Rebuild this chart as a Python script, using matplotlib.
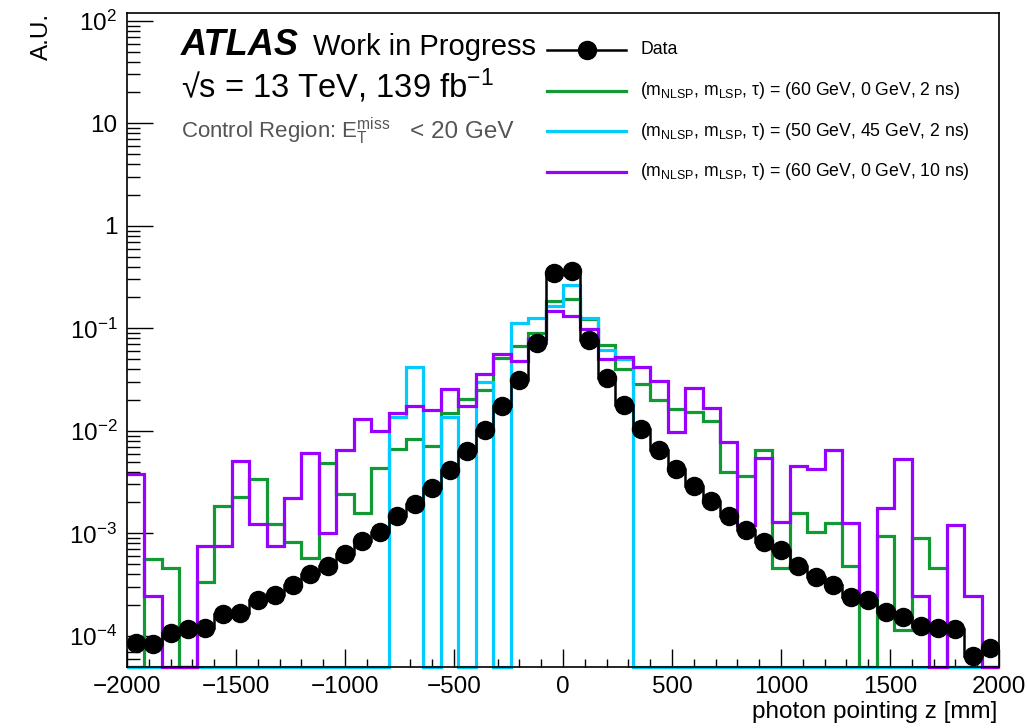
import numpy as np
import matplotlib
matplotlib.use("Agg")
from matplotlib import pyplot as plt
from matplotlib.ticker import MultipleLocator, LogLocator, NullFormatter

plt.rcParams['font.family'] = ['Liberation Sans', 'DejaVu Sans']
plt.rcParams['mathtext.fontset'] = 'custom'
plt.rcParams['mathtext.rm'] = 'Liberation Sans'
plt.rcParams['mathtext.it'] = 'Liberation Sans:italic'
plt.rcParams['mathtext.bf'] = 'Liberation Sans:bold'

# 50 bins of 80 mm between -2000 and 2000
edges = np.linspace(-2000, 2000, 51)
centers = 0.5 * (edges[:-1] + edges[1:])

data = [8.45e-5, 8.3e-5, 1.07e-4, 1.17e-4, 1.2e-4, 1.62e-4, 1.67e-4, 2.24e-4, 2.48e-4, 3.11e-4,
        3.98e-4, 4.8e-4, 6.34e-4, 8.4e-4, 1.04e-3, 1.48e-3, 1.92e-3, 2.79e-3, 4.12e-3, 6.35e-3,
        1.03e-2, 1.75e-2, 3.13e-2, 7.15e-2, 0.344, 0.362, 7.69e-2, 3.3e-2, 1.79e-2, 1.05e-2,
        6.45e-3, 4.21e-3, 2.9e-3, 2.07e-3, 1.48e-3, 1.09e-3, 8.2e-4, 6.87e-4, 4.8e-4, 3.75e-4,
        3.11e-4, 2.41e-4, 2.24e-4, 1.71e-4, 1.53e-4, 1.25e-4, 1.2e-4, 1.17e-4, 6.36e-5, 7.67e-5]

sig_60_0_2ns = [0, 5.57e-4, 4.62e-4, 0, 3.38e-4, 1.85e-3, 2.28e-3, 3.36e-3, 1.24e-3, 8.2e-4,
                5.8e-4, 4.9e-3, 2.4e-3, 1.59e-3, 4.33e-3, 6.6e-3, 8.4e-3, 7.1e-3, 1.48e-2, 2.06e-2,
                2.48e-2, 5.17e-2, 6.73e-2, 8.93e-2, 0.185, 0.192, 0.124, 6.82e-2, 3.98e-2, 2.85e-2,
                2.0e-2, 1.64e-2, 1.53e-2, 1.25e-2, 3.96e-3, 3.62e-3, 6.5e-3, 4.62e-4, 1.59e-3, 1.02e-3,
                1.27e-3, 4.8e-4, 0, 9.4e-4, 1.14e-4, 9.07e-4, 4.62e-4, 0, 0, 0]

sig_50_45_2ns = [0, 0, 0, 0, 0, 0, 0, 0, 0, 0,
                 0, 0, 0, 0, 0, 1.36e-2, 4.2e-2, 0, 1.36e-2, 0,
                 2.99e-2, 0, 0.1135, 0.127, 0.165, 0.264, 0.125, 6.15e-2, 5.06e-2, 0,
                 0, 0, 0, 0, 0, 0, 0, 0, 0, 0,
                 0, 0, 0, 0, 0, 0, 0, 0, 0, 0]

sig_60_0_10ns = [3.76e-3, 2.44e-4, 0, 0, 7.6e-4, 7.6e-4, 5.08e-3, 1.22e-3, 7.6e-4, 2.23e-3,
                 6.12e-3, 1.0e-3, 6.5e-3, 1.29e-2, 1.0e-2, 1.48e-2, 1.75e-2, 1.6e-2, 2.54e-2, 1.75e-2,
                 3.56e-2, 5.57e-2, 4.8e-2, 7.94e-2, 0.1476, 0.132, 9.93e-2, 5.06e-2, 5.3e-2, 4.2e-2,
                 3.06e-2, 9.75e-3, 2.6e-2, 1.68e-2, 7.84e-3, 1.2e-3, 5.47e-3, 1.29e-3, 4.54e-3, 4.27e-3,
                 6.5e-3, 1.27e-3, 2.44e-4, 1.75e-3, 5.27e-3, 2.44e-4, 0, 1.2e-3, 2.44e-4, 0]

labels = ["Data",
          r"(m$_\mathregular{NLSP}$, m$_\mathregular{LSP}$, τ) = (60 GeV, 0 GeV, 2 ns)",
          r"(m$_\mathregular{NLSP}$, m$_\mathregular{LSP}$, τ) = (50 GeV, 45 GeV, 2 ns)",
          r"(m$_\mathregular{NLSP}$, m$_\mathregular{LSP}$, τ) = (60 GeV, 0 GeV, 10 ns)"]
colors = ['#119933', '#00ccff', '#9a00ff']

ytick_vals = [1e-4, 1e-3, 1e-2, 1e-1, 1, 10, 100]
ytick_labels = [r'10$^{-4}$', r'10$^{-3}$', r'10$^{-2}$', r'10$^{-1}$', '1', '10', r'10$^{2}$']

ymin, ymax = 5e-5, 120

W, H = 1028, 728
fig = plt.figure(figsize=(W / 100, H / 100), dpi=100)
ax = fig.add_axes([127 / W, 1 - 666.7 / H, 872 / W, 654 / H])
ax.set_yscale('log')

# empty bins are drawn on the bottom of the frame, like ROOT does
for vals, c in zip([sig_60_0_2ns, sig_50_45_2ns, sig_60_0_10ns], colors):
    v = np.asarray(vals, dtype=float)
    v = np.where(v > 0, v, ymin)
    ax.stairs(v, edges, baseline=None, color=c, lw=2.3, clip_on=False, zorder=2)

ax.stairs(data, edges, baseline=None, color='black', lw=1.8, zorder=3)
ax.plot(centers, data, 'o', color='black', ms=13, zorder=4)

ax.set_xlim(-2000, 2000)
ax.set_ylim(ymin, ymax)
ax.xaxis.set_major_locator(MultipleLocator(500))
ax.xaxis.set_minor_locator(MultipleLocator(100))
ax.set_yticks(ytick_vals, ytick_labels)
ax.yaxis.set_minor_locator(LogLocator(base=10, subs=np.arange(2, 10)))
ax.yaxis.set_minor_formatter(NullFormatter())
ax.xaxis.set_major_formatter(matplotlib.ticker.FuncFormatter(
    lambda v, p: ('\u2212%d' % -v) if v < 0 else '%d' % v))
ax.tick_params(axis='x', which='major', direction='in', length=13, width=1, labelsize=17.5, pad=7)
ax.tick_params(axis='x', which='minor', direction='in', length=6, width=1)
ax.tick_params(axis='y', which='major', direction='in', length=19, width=1, labelsize=17.5, pad=7)
ax.tick_params(axis='y', which='minor', direction='in', length=9.5, width=1)
for s in ax.spines.values():
    s.set_linewidth(1.2)

fig.text(997 / W, 1 - 718 / H, 'photon pointing z [mm]', ha='right', va='baseline', fontsize=17.5)
fig.text(41.5 / W, 1 - 13 / H, 'A.U.', ha='center', va='top', rotation=90, fontsize=17.5)

# labels
fig.text(181 / W, 1 - 55 / H, 'ATLAS', fontsize=26, fontweight='bold', fontstyle='italic',
         va='baseline')
fig.text(313 / W, 1 - 55 / H, 'Work in Progress', fontsize=21, va='baseline')
fig.text(181 / W, 1 - 98 / H, r'√s = 13 TeV, 139 fb$^{\mathregular{-1}}$', fontsize=23.5,
         va='baseline')
fig.text(181 / W, 1 - 138 / H, r'Control Region: E$_\mathregular{T}^\mathregular{miss}$',
         fontsize=16, va='baseline', color='#555555')
fig.text(410 / W, 1 - 138 / H, '< 20 GeV', fontsize=17.5, va='baseline', color='#555555')

# legend drawn by hand, ROOT style
x0, x1, xt = 547, 626, 640
rows = [50, 90.5, 131, 172]
leg_colors = ['black'] + colors
for i, (lab, c, yr) in enumerate(zip(labels, leg_colors, rows)):
    y = 1 - yr / H
    fig.add_artist(plt.Line2D([x0 / W, x1 / W], [y, y], color=c,
                              lw=2.3 if i else 1.8, transform=fig.transFigure))
    if i == 0:
        fig.add_artist(plt.Line2D([(x0 + x1) / 2 / W], [y], marker='o', ms=13, color='black',
                                  transform=fig.transFigure))
    fig.text(xt / W, y, lab, fontsize=12.7, va='center')

fig.savefig('out.png', dpi=100)
